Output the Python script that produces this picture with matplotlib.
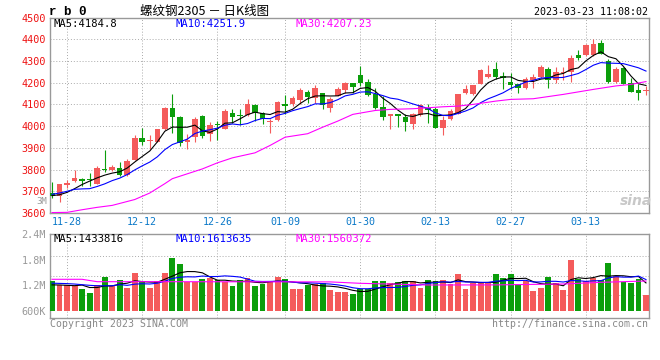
import numpy as np
import pandas as pd
import matplotlib
matplotlib.use('Agg')
import matplotlib.pyplot as plt

plt.rcParams['font.family'] = ['DejaVu Sans Mono', 'Noto Sans CJK SC']

# daily candles, 2022-11-24 .. 2023-03-23
open_ = [3691, 3677, 3731, 3746, 3757, 3758, 3735, 3803, 3798, 3805,
         3774, 3846, 3946, 3931, 3928, 3986, 4083, 4042, 3926, 3949,
         4048, 3962, 4010, 3988, 4062, 4052, 4049, 4098, 4062, 4019,
         4026, 4103, 4100, 4118, 4157, 4131, 4151, 4082, 4138, 4166,
         4197, 4234, 4203, 4146, 4089, 4046, 4054, 4042, 4011, 4049,
         4085, 4077, 3992, 4031, 4058, 4151, 4146, 4195, 4226, 4261,
         4231, 4203, 4192, 4177, 4211, 4228, 4261, 4212, 4246, 4251,
         4326, 4326, 4326, 4381, 4300, 4203, 4269, 4200, 4165, 4162]
high = [3743, 3735, 3754, 3800, 3760, 3785, 3818, 3890, 3822, 3834,
        3848, 3960, 3993, 3958, 3988, 4087, 4150, 4045, 3963, 4040,
        4050, 4017, 4023, 4080, 4077, 4080, 4126, 4100, 4066, 4031,
        4115, 4142, 4138, 4174, 4165, 4188, 4152, 4134, 4180, 4203,
        4198, 4277, 4215, 4177, 4138, 4058, 4055, 4054, 4062, 4100,
        4100, 4090, 4046, 4077, 4146, 4189, 4190, 4262, 4280, 4295,
        4249, 4243, 4195, 4228, 4238, 4281, 4272, 4274, 4272, 4326,
        4349, 4380, 4403, 4397, 4311, 4272, 4272, 4223, 4192, 4185]
low = [3670, 3652, 3716, 3745, 3722, 3725, 3733, 3788, 3792, 3770,
       3772, 3845, 3913, 3895, 3926, 3984, 3970, 3910, 3893, 3926,
       3946, 3931, 3938, 3986, 4015, 4003, 4047, 4023, 4008, 3966,
       4024, 4054, 4093, 4100, 4108, 4108, 4077, 4065, 4137, 4154,
       4151, 4185, 4138, 4080, 4028, 3989, 3997, 3977, 3985, 4046,
       4015, 3990, 3958, 4028, 4054, 4146, 4141, 4193, 4223, 4215,
       4172, 4169, 4154, 4169, 4177, 4223, 4177, 4197, 4211, 4203,
       4305, 4323, 4323, 4331, 4200, 4197, 4192, 4157, 4120, 4142]
close = [3676, 3733, 3738, 3763, 3746, 3754, 3808, 3800, 3810, 3777,
         3840, 3946, 3928, 3936, 3986, 4085, 4043, 3924, 3937, 4033,
         3955, 4006, 4004, 4069, 4043, 4045, 4103, 4062, 4034, 4023,
         4111, 4092, 4128, 4165, 4134, 4174, 4097, 4123, 4169, 4200,
         4180, 4197, 4141, 4082, 4042, 4058, 4046, 4018, 4058, 4095,
         4074, 3992, 4028, 4069, 4146, 4169, 4188, 4257, 4238, 4228,
         4220, 4189, 4177, 4215, 4226, 4274, 4211, 4251, 4251, 4315,
         4312, 4372, 4377, 4334, 4203, 4265, 4195, 4157, 4154, 4165]

# volume, thousands
vol_k = [1308, 1208, 1208, 1192, 1114, 1021, 1208, 1395, 1192, 1317,
         1138, 1488, 1301, 1138, 1294, 1488, 1846, 1699, 1285, 1285,
         1348, 1364, 1317, 1285, 1185, 1317, 1372, 1192, 1231, 1301,
         1395, 1348, 1121, 1121, 1208, 1224, 1255, 1091, 1037, 1037,
         997, 1114, 1114, 1301, 1301, 1247, 1285, 1301, 1301, 1145,
         1325, 1301, 1325, 1224, 1465, 1114, 1255, 1255, 1255, 1465,
         1372, 1465, 1231, 1294, 1068, 1138, 1395, 1255, 1091, 1792,
         1348, 1309, 1364, 1325, 1722, 1418, 1285, 1255, 1348, 974]

ma5_head = [3680, 3684, 3695, 3712]
ma10_head = [3686, 3692, 3700, 3709, 3711, 3712, 3722, 3734, 3749]
ma30_idx = [0, 2, 4, 6, 8, 11, 13, 15, 16, 20, 22, 24, 27, 29, 31, 34, 36,
            38, 40, 43, 45, 48, 52, 54, 56, 59, 61, 64, 68, 72, 75, 77, 79]
ma30_val = [3602, 3603, 3615, 3626, 3635, 3662, 3692, 3735, 3758, 3803, 3831,
            3854, 3877, 3911, 3949, 3965, 3995, 4023, 4054, 4072, 4077, 4080,
            4089, 4092, 4100, 4115, 4123, 4126, 4146, 4169, 4185, 4192, 4205]

vma5_head = [1210, 1208, 1200, 1192]
vma10_head = [1250, 1245, 1240, 1230, 1215, 1200, 1190, 1190, 1190]
vma30_idx = [0, 4, 6, 15, 37, 41, 50, 59, 68, 73, 79]
vma30_val = [1341, 1341, 1285, 1285, 1280, 1247, 1208, 1210, 1231, 1270, 1301]

tick_idx = [2, 12, 22, 31, 41, 51, 61, 71]
tick_labels = ['11-28', '12-12', '12-26', '01-09', '01-30', '02-13', '02-27', '03-13']

RED = '#f45b5b'
GREEN = '#0b9e0b'
GRID = '#aaaaaa'
FRAME = '#999999'
W, H = 660, 360


def fx(px):
    return px / W


def fy(py):
    return 1 - py / H


o = np.array(open_)
c = np.array(close)
x = np.arange(len(c))
cols = np.where(c >= o, RED, GREEN)

ma5 = pd.Series(c, dtype=float).rolling(5).mean().values
ma5[:len(ma5_head)] = ma5_head
ma10 = pd.Series(c, dtype=float).rolling(10).mean().values
ma10[:len(ma10_head)] = ma10_head

v = np.array(vol_k, dtype=float)
vma5 = pd.Series(v).rolling(5).mean().values
vma5[:len(vma5_head)] = vma5_head
vma10 = pd.Series(v).rolling(10).mean().values
vma10[:len(vma10_head)] = vma10_head

fig = plt.figure(figsize=(6.6, 3.6), dpi=100)
ax = fig.add_axes([fx(50), fy(213), 599 / W, (213 - 17.5) / H])
axv = fig.add_axes([fx(50), fy(318), 599 / W, 84 / H])

# price panel
ax.vlines(x, low, high, colors=cols, lw=0.8, zorder=2)
ax.bar(x, np.maximum(np.abs(c - o), 3), bottom=np.minimum(o, c), width=0.74,
       color=cols, lw=0, zorder=3)
ax.plot(x, ma5, color='black', lw=0.8, zorder=4)
ax.plot(x, ma10, color='#0000ff', lw=0.8, zorder=4)
ax.plot(ma30_idx, ma30_val, color='#ff00ff', lw=0.8, zorder=4)

ax.set_xlim(-0.27, 79.4)
ax.set_ylim(3600, 4500)
ax.set_yticks(range(3600, 4501, 100))
ax.set_xticks(tick_idx)
ax.set_xticklabels(tick_labels)
ax.grid(True, ls=(0, (1, 2)), color=GRID, lw=0.7)
ax.set_axisbelow(True)
ax.tick_params(axis='y', length=0, labelcolor='#ee1111', labelsize=7.3, pad=3)
ax.tick_params(axis='x', length=0, labelcolor='#0a78c8', labelsize=7.2, pad=3)

# volume panel
base = 600
axv.bar(x, v - base, bottom=base, width=0.78, color=cols, lw=0, zorder=3)
axv.plot(x, vma5, color='black', lw=0.8, zorder=4)
axv.plot(x, vma10, color='#0000ff', lw=0.8, zorder=4)
axv.plot(vma30_idx, vma30_val, color='#ff00ff', lw=0.8, zorder=4)
axv.set_xlim(-0.27, 79.4)
axv.set_ylim(436, 2400)
axv.set_yticks([600, 1200, 1800, 2400])
axv.set_yticklabels(['600K', '1.2M', '1.8M', '2.4M'])
axv.set_xticks(tick_idx)
axv.set_xticklabels([])
axv.grid(True, axis='x', ls=(0, (1, 2)), color=GRID, lw=0.7)
for gy in [974, 1425, 1893]:
    axv.axhline(gy, ls=(0, (1, 2)), color=GRID, lw=0.7, zorder=1)
axv.set_axisbelow(True)
axv.tick_params(length=0, labelcolor='#999999', labelsize=7.3, pad=3)

for a in (ax, axv):
    for s in a.spines.values():
        s.set_color(FRAME)
        s.set_linewidth(1.0)

# texts
fig.text(fx(49), fy(12), 'r b 0', fontsize=9, fontweight='bold',
         family=['Liberation Mono', 'DejaVu Sans Mono'], va='center')
fig.text(fx(140), fy(11), '螺纹钢2305 － 日K线图', fontsize=9,
         family=['Noto Sans CJK SC', 'DejaVu Sans'], va='center')
fig.text(fx(648), fy(12), '2023-03-23 11:08:02', fontsize=7.2, ha='right', va='center')

fig.text(fx(54), fy(24), 'MA5:4184.8', fontsize=7.6, color='black', va='center')
fig.text(fx(175), fy(24), 'MA10:4251.9', fontsize=7.6, color='#0000ff', va='center')
fig.text(fx(295), fy(24), 'MA30:4207.23', fontsize=7.6, color='#ff00ff', va='center')

fig.text(fx(54), fy(239), 'MA5:1433816', fontsize=7.6, color='black', va='center')
fig.text(fx(175), fy(239), 'MA10:1613635', fontsize=7.6, color='#0000ff', va='center')
fig.text(fx(295), fy(239), 'MA30:1560372', fontsize=7.6, color='#ff00ff', va='center')

fig.text(fx(47), fy(202), '3M', fontsize=6.5, color='#999999', ha='right', va='center')
fig.text(fx(636), fy(201), 'sina', fontsize=10, style='italic', fontweight='bold',
         color='#c8c8c8', ha='center', va='center', family='DejaVu Sans')

fig.text(fx(50), fy(324), 'Copyright 2023 SINA.COM', fontsize=7.1, color='#888888', va='center')
fig.text(fx(648), fy(324), 'http://finance.sina.com.cn', fontsize=7.1, color='#888888',
         ha='right', va='center')

fig.savefig('out.png', dpi=100)
